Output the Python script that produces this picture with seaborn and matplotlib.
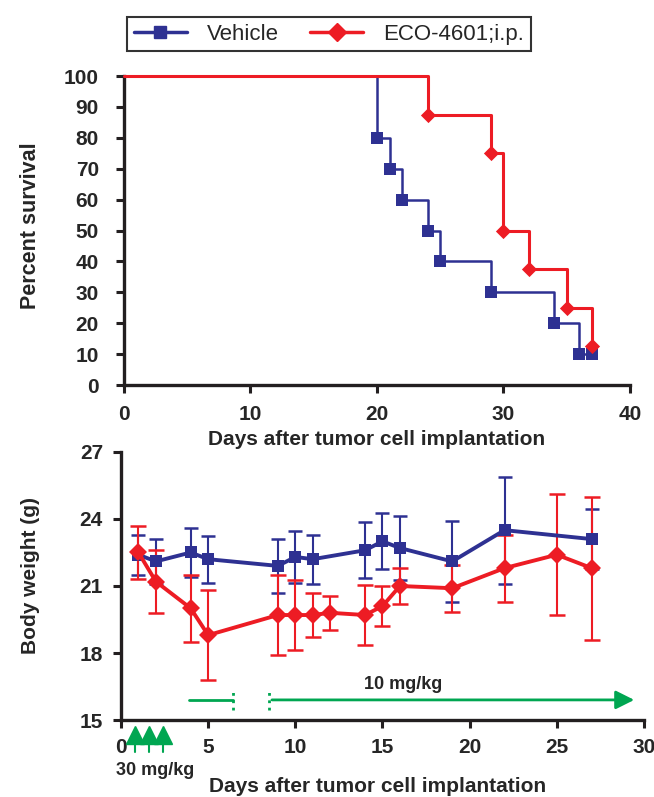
import numpy as np
import pandas as pd
import matplotlib
matplotlib.use("Agg")
import matplotlib.pyplot as plt
import seaborn as sns

sns.set_style("ticks")
plt.rcParams['font.family'] = ['Liberation Sans', 'DejaVu Sans']

BLUE = "#2E3192"
RED = "#ED1C24"
GREEN = "#00A651"

# survival (Kaplan-Meier) data
veh_days = [0, 20, 21, 22, 24, 25, 29, 34, 36, 37]
veh_surv = [100, 80, 70, 60, 50, 40, 30, 20, 10, 10]
eco_days = [0, 24, 29, 30, 32, 35, 37]
eco_surv = [100, 87.5, 75, 50, 37.5, 25, 12.5]

# body weight data
bw_days_veh = [1, 2, 4, 5, 9, 10, 11, 14, 15, 16, 19, 22, 27]
bw_veh = [22.4, 22.1, 22.5, 22.2, 21.9, 22.3, 22.2, 22.6, 23.0, 22.7, 22.1, 23.5, 23.1]
bw_veh_err = [0.9, 1.0, 1.1, 1.05, 1.2, 1.15, 1.1, 1.25, 1.25, 1.45, 1.8, 2.4, 1.35]
bw_days_eco = [1, 2, 4, 5, 9, 10, 11, 12, 14, 15, 16, 19, 22, 25, 27]
bw_eco = [22.5, 21.2, 20.0, 18.8, 19.7, 19.7, 19.7, 19.8, 19.7, 20.1, 21.0, 20.9, 21.8, 22.4, 21.8]
bw_eco_err = [1.2, 1.4, 1.5, 2.0, 1.8, 1.55, 1.0, 0.75, 1.35, 0.9, 0.8, 1.05, 1.5, 2.7, 3.2]

dose_days = [0.8, 1.6, 2.4]

fig = plt.figure(figsize=(6.54, 7.97), dpi=100)
ax1 = fig.add_axes([0.1896, 0.5169, 0.7737, 0.3877])
ax2 = fig.add_axes([0.185, 0.0966, 0.7997, 0.3363])

# ---- top: survival
ax1.step(veh_days, veh_surv, where="post", color=BLUE, lw=1.8, clip_on=False, zorder=3)
ax1.step(eco_days, eco_surv, where="post", color=RED, lw=2.2, clip_on=False, zorder=4)
sns.scatterplot(x=veh_days[1:], y=veh_surv[1:], ax=ax1, marker="s", s=80, color=BLUE,
                edgecolor=BLUE, linewidth=0, clip_on=False, zorder=5)
sns.scatterplot(x=eco_days[1:], y=eco_surv[1:], ax=ax1, marker="D", s=60, color=RED,
                edgecolor=RED, linewidth=0, clip_on=False, zorder=6)
ax1.set_xlim(0, 40)
ax1.set_ylim(0, 100)
ax1.set_xticks(range(0, 41, 10))
ax1.set_yticks(range(0, 101, 10))
ax1.set_ylabel("Percent survival", fontsize=15.5, fontweight="bold")
ax1.set_xlabel("Days after tumor cell implantation", fontsize=15, fontweight="bold")
ax1.yaxis.set_label_coords(-0.165, 0.515)
ax1.xaxis.set_label_coords(0.5, -0.145)

# legend
h1, = ax1.plot([], [], color=BLUE, lw=2.5, marker="s", ms=9)
h2, = ax1.plot([], [], color=RED, lw=2.5, marker="D", ms=9)
leg = fig.legend([h1, h2], ["Vehicle", "ECO-4601;i.p."], loc="center",
                 bbox_to_anchor=(0.503, 0.957), ncol=2, frameon=True, fancybox=False,
                 edgecolor="black", fontsize=16, handlelength=2.4, handletextpad=0.9,
                 columnspacing=1.4, borderpad=0.3)
leg.get_frame().set_linewidth(1.5)

# ---- bottom: body weight
ax2.errorbar(bw_days_veh, bw_veh, yerr=bw_veh_err, fmt="none", ecolor=BLUE,
             elinewidth=1.5, capsize=5, capthick=1.8, zorder=3)
ax2.errorbar(bw_days_eco, bw_eco, yerr=bw_eco_err, fmt="none", ecolor=RED,
             elinewidth=1.5, capsize=6, capthick=1.8, zorder=4)
sns.lineplot(x=bw_days_veh, y=bw_veh, ax=ax2, color=BLUE, lw=2.8, marker="s",
             markersize=8, markeredgewidth=0, zorder=5)
sns.lineplot(x=bw_days_eco, y=bw_eco, ax=ax2, color=RED, lw=2.8, marker="D",
             markersize=9, markeredgewidth=0, zorder=6)
ax2.set_xlim(0, 30)
ax2.set_ylim(15, 27)
ax2.set_xticks(range(0, 31, 5))
ax2.set_yticks(range(15, 28, 3))
ax2.set_ylabel("Body weight (g)", fontsize=15, fontweight="bold")
ax2.set_xlabel("Days after tumor cell implantation", fontsize=15, fontweight="bold")
ax2.yaxis.set_label_coords(-0.155, 0.54)
ax2.xaxis.set_label_coords(0.49, -0.212)

# dosing annotations
ax2.plot([3.9, 6.4], [15.9, 15.9], color=GREEN, lw=2)
ax2.plot([6.4, 6.4], [15.45, 16.45], color=GREEN, lw=2, ls=":")
ax2.plot([8.5, 8.5], [15.45, 16.45], color=GREEN, lw=2, ls=":")
ax2.annotate("", xy=(29.6, 15.9), xytext=(8.5, 15.9),
             arrowprops=dict(arrowstyle="-|>", color=GREEN, lw=2, mutation_scale=28))
ax2.text(16.2, 16.57, "10 mg/kg", ha="center", va="center", fontsize=13, fontweight="bold")
for d in dose_days:
    ax2.plot([d, d], [14.05, 13.55], color=GREEN, lw=1.5, clip_on=False, zorder=7)
    ax2.plot(d, 14.35, marker="^", ms=12.5, color=GREEN, clip_on=False, zorder=7)
ax2.text(1.95, 12.75, "30 mg/kg", ha="center", va="center", fontsize=13, fontweight="bold")

for ax in (ax1, ax2):
    sns.despine(ax=ax)
    for s in ("left", "bottom"):
        ax.spines[s].set_linewidth(2.4)
        ax.spines[s].set_color("#231F20")
    ax.tick_params(width=2.2, length=6, color="#231F20", labelsize=15)
    for lab in ax.get_xticklabels() + ax.get_yticklabels():
        lab.set_fontweight("bold")
ax1.tick_params(axis="y", pad=12)
ax1.tick_params(axis="x", pad=8.5)
ax2.tick_params(axis="y", pad=7)
ax2.tick_params(axis="x", pad=7)

fig.savefig("out.png", dpi=100)
